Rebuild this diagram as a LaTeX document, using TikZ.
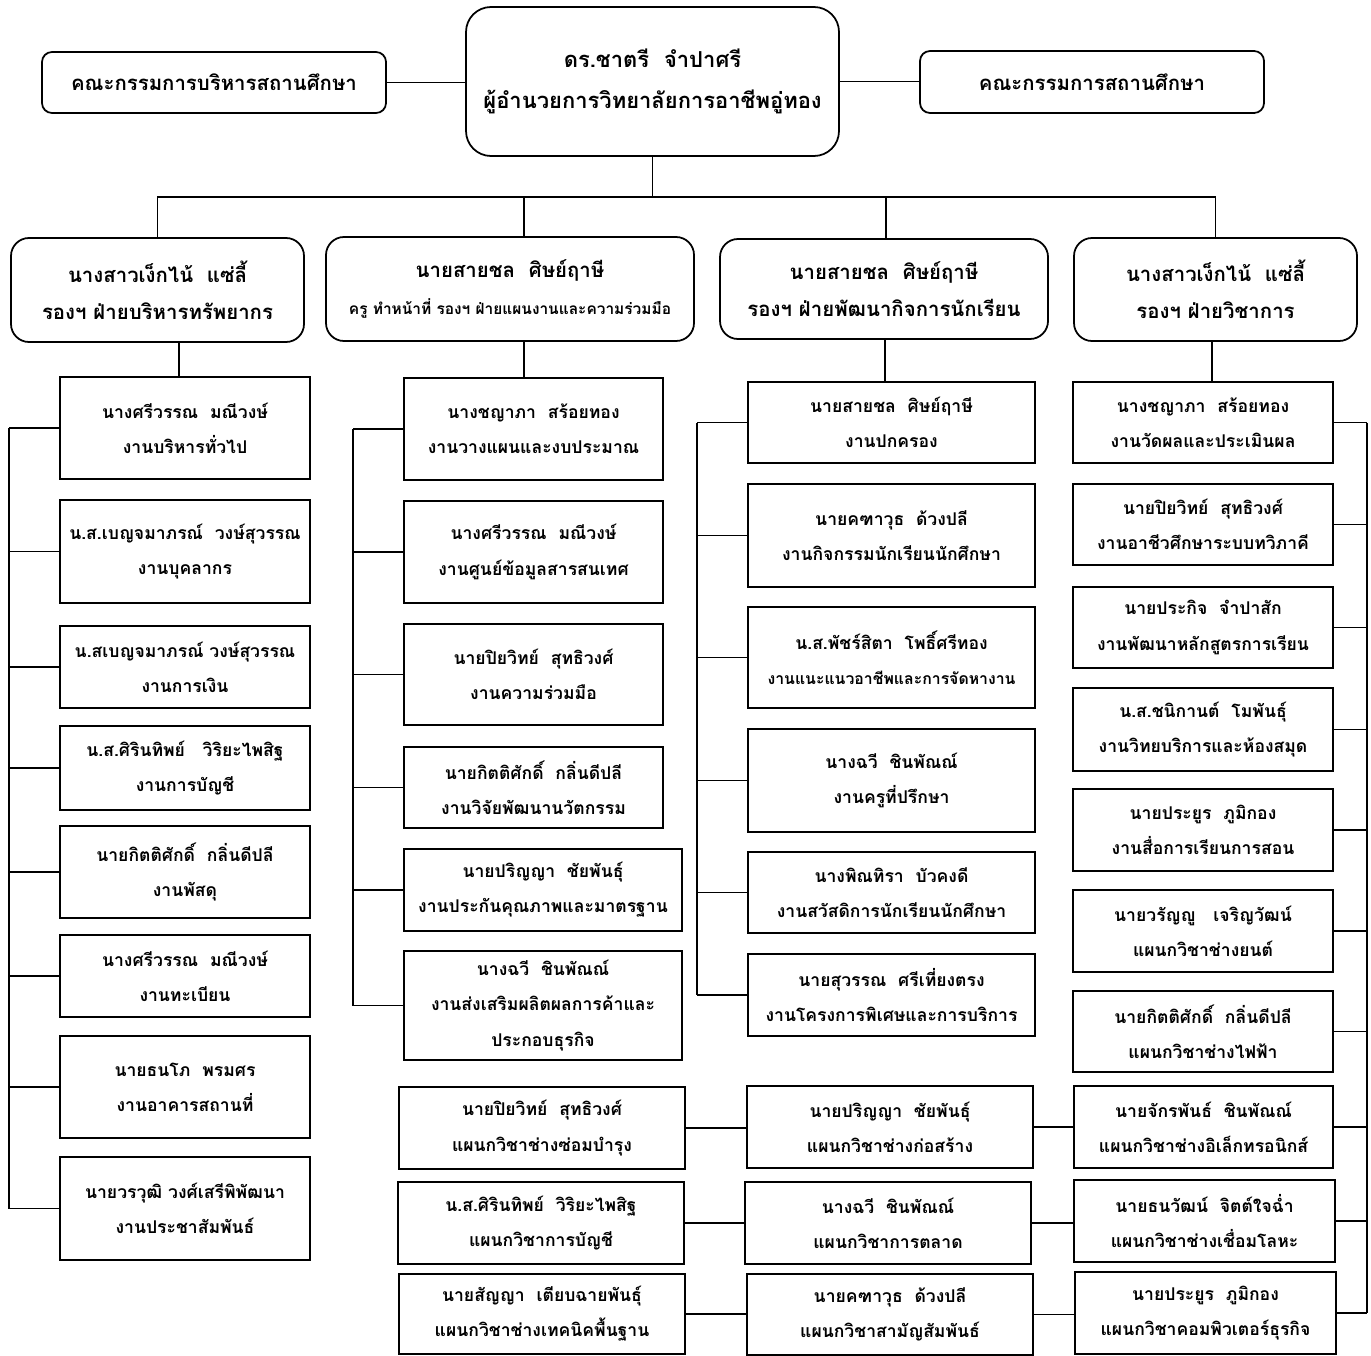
\documentclass[tikz,border=0pt]{standalone}
\usepackage{fontspec}
\newfontfamily\thaifont[Script=Thai]{Loma}
\usetikzlibrary{positioning}
\tikzset{
  box/.style={draw, line width=1pt, align=center, inner sep=0pt,
    font=\thaifont\bfseries\fontsize{10}{20}\selectfont},
  boxsize/.style 2 args={minimum width=#1*0.02cm, minimum height=#2*0.02cm},
  rbox/.style={box, rounded corners=0.36cm, font=\thaifont\bfseries\fontsize{11.6}{21}\selectfont},
  link/.style={line width=0.8pt},
}
\begin{document}
\begin{tikzpicture}[x=0.02cm, y=-0.02cm]
        \useasboundingbox (0,0) rectangle (1371,1355);

        % Director and the two boards
        \node[rbox, rounded corners=0.5cm, boxsize={373}{149},
          font=\thaifont\bfseries\fontsize{12.5}{23}\selectfont] (dir) at (652.5,81.5)
          {ดร.ชาตรี~~จำปาศรี\\ผู้อำนวยการวิทยาลัยการอาชีพอู่ทอง};
        \node[rbox, rounded corners=0.2cm, boxsize={344}{61}] (bl) at (214,82.5) {คณะกรรมการบริหารสถานศึกษา};
        \node[rbox, rounded corners=0.2cm, boxsize={344}{62}] (br) at (1092,82) {คณะกรรมการสถานศึกษา};
        \draw[link] (bl.east) -- (bl.east -| dir.west);
        \draw[link] (dir.east) -- (dir.east -| br.west);

        % Deputy directors
        \node[rbox, boxsize={293}{104}] (vp1) at (157.5,290) {นางสาวเง็กไน้~~แซ่ลี้\\รองฯ ฝ่ายบริหารทรัพยากร};
        \node[rbox, boxsize={368}{104}] (vp2) at (510,289) {นายสายชล~~ศิษย์ฤาษี\\{\fontsize{8.8}{21}\selectfont ครู ทำหน้าที่ รองฯ ฝ่ายแผนงานและความร่วมมือ}};
        \node[rbox, boxsize={328}{100}] (vp3) at (884,289) {นายสายชล~~ศิษย์ฤาษี\\รองฯ ฝ่ายพัฒนากิจการนักเรียน};
        \node[rbox, boxsize={283}{103}] (vp4) at (1215.5,289.5) {นางสาวเง็กไน้~~แซ่ลี้\\รองฯ ฝ่ายวิชาการ};

        \coordinate (bus) at (652.5,197);
        \coordinate (j2) at (524,197);
        \coordinate (j3) at (886,197);
        \draw[link] (dir.south) -- (bus);
        \draw[link] (vp1.north) |- (bus) -| (vp4.north);
        \draw[link] (j2) -- (j2 |- vp2.north);
        \draw[link] (j3) -- (j3 |- vp3.north);

        % Column under resources
        \node[box, boxsize={250}{102}] (a1) at (185,428) {นางศรีวรรณ~~มณีวงษ์\\งานบริหารทั่วไป};
        \node[box, boxsize={250}{103}] (a2) at (185,551.5) {น.ส.เบญจมาภรณ์~~วงษ์สุวรรณ\\งานบุคลากร};
        \node[box, boxsize={250}{82}] (a3) at (185,667) {น.สเบญจมาภรณ์ วงษ์สุวรรณ\\งานการเงิน};
        \node[box, boxsize={250}{84}] (a4) at (185,768) {น.ส.ศิรินทิพย์~~~วิริยะไพสิฐ\\งานการบัญชี};
        \node[box, boxsize={250}{92}] (a5) at (185,872) {นายกิตติศักดิ์~~กลิ่นดีปลี\\งานพัสดุ};
        \node[box, boxsize={250}{82}] (a6) at (185,976) {นางศรีวรรณ~~มณีวงษ์\\งานทะเบียน};
        \node[box, boxsize={250}{102}] (a7) at (185,1087) {นายธนโภ~~พรมศร\\งานอาคารสถานที่};
        \node[box, boxsize={250}{103}] (a8) at (185,1208.5) {นายวรวุฒิ วงศ์เสรีพิพัฒนา\\งานประชาสัมพันธ์};

        % Column under planning
        \node[box, boxsize={259}{102}] (b1) at (533.5,429) {นางชญาภา~~สร้อยทอง\\งานวางแผนและงบประมาณ};
        \node[box, boxsize={259}{102}] (b2) at (533.5,552) {นางศรีวรรณ~~มณีวงษ์\\งานศูนย์ข้อมูลสารสนเทศ};
        \node[box, boxsize={259}{101}] (b3) at (533.5,674.5) {นายปิยวิทย์~~สุทธิวงศ์\\งานความร่วมมือ};
        \node[box, boxsize={259}{81}] (b4) at (533.5,787.5) {นายกิตติศักดิ์~~กลิ่นดีปลี\\งานวิจัยพัฒนานวัตกรรม};
        \node[box, boxsize={278}{82}] (b5) at (543,890) {นายปริญญา~~ชัยพันธุ์\\งานประกันคุณภาพและมาตรฐาน};
        \node[box, boxsize={278}{109}] (b6) at (543,1005.5) {นางฉวี~~ชินพัณณ์\\งานส่งเสริมผลิตผลการค้าและ\\ประกอบธุรกิจ};

        % Column under student affairs
        \node[box, boxsize={287}{81}] (c1) at (891.5,422.5) {นายสายชล~~ศิษย์ฤาษี\\งานปกครอง};
        \node[box, boxsize={287}{103}] (c2) at (891.5,535.5) {นายคฑาวุธ~~ด้วงปลี\\งานกิจกรรมนักเรียนนักศึกษา};
        \node[box, boxsize={287}{101}] (c3) at (891.5,657.5) {น.ส.พัชร์สิตา~~โพธิ์ศรีทอง\\{\fontsize{9}{20}\selectfont งานแนะแนวอาชีพและการจัดหางาน}};
        \node[box, boxsize={287}{103}] (c4) at (891.5,780.5) {นางฉวี~~ชินพัณณ์\\งานครูที่ปรึกษา};
        \node[box, boxsize={287}{81}] (c5) at (891.5,892.5) {นางพิณทิรา~~บัวคงดี\\งานสวัสดิการนักเรียนนักศึกษา};
        \node[box, boxsize={287}{82}] (c6) at (891.5,995) {นายสุวรรณ~~ศรีเที่ยงตรง\\งานโครงการพิเศษและการบริการ};

        % Column under academic affairs
        \node[box, boxsize={260}{81}] (d1) at (1203,422.5) {นางชญาภา~~สร้อยทอง\\งานวัดผลและประเมินผล};
        \node[box, boxsize={260}{81}] (d2) at (1203,524.5) {นายปิยวิทย์~~สุทธิวงศ์\\งานอาชีวศึกษาระบบทวิภาคี};
        \node[box, boxsize={260}{81}] (d3) at (1203,627.5) {นายประกิจ~~จำปาสัก\\งานพัฒนาหลักสูตรการเรียน};
        \node[box, boxsize={260}{83}] (d4) at (1203,729.5) {น.ส.ชนิกานต์~~โมพันธุ์\\งานวิทยบริการและห้องสมุด};
        \node[box, boxsize={260}{82}] (d5) at (1203,830) {นายประยูร~~ภูมิกอง\\งานสื่อการเรียนการสอน};
        \node[box, boxsize={260}{82}] (d6) at (1203,931) {นายวรัญญู~~~เจริญวัฒน์\\แผนกวิชาช่างยนต์};
        \node[box, boxsize={260}{81}] (d7) at (1203,1031.5) {นายกิตติศักดิ์~~กลิ่นดีปลี\\แผนกวิชาช่างไฟฟ้า};

        % Departments at the bottom
        \node[box, boxsize={286}{82}] (e1) at (542,1128) {นายปิยวิทย์~~สุทธิวงศ์\\แผนกวิชาช่างซ่อมบำรุง};
        \node[box, boxsize={286}{82}] (e2) at (541,1223) {น.ส.ศิรินทิพย์~~วิริยะไพสิฐ\\แผนกวิชาการบัญชี};
        \node[box, boxsize={286}{80}] (e3) at (542,1314) {นายสัญญา~~เตียบฉายพันธุ์\\แผนกวิชาช่างเทคนิคพื้นฐาน};
        \node[box, boxsize={286}{82}] (f1) at (890,1127) {นายปริญญา~~ชัยพันธุ์\\แผนกวิชาช่างก่อสร้าง};
        \node[box, boxsize={286}{82}] (f2) at (888,1223) {นางฉวี~~ชินพัณณ์\\แผนกวิชาการตลาด};
        \node[box, boxsize={286}{81}] (f3) at (890,1314.5) {นายคฑาวุธ~~ด้วงปลี\\แผนกวิชาสามัญสัมพันธ์};
        \node[box, boxsize={259}{82}] (g1) at (1203.5,1127) {นายจักรพันธ์~~ชินพัณณ์\\แผนกวิชาช่างอิเล็กทรอนิกส์};
        \node[box, boxsize={261}{82}] (g2) at (1204.5,1221) {นายธนวัฒน์~~จิตต์ใจฉ่ำ\\แผนกวิชาช่างเชื่อมโลหะ};
        \node[box, boxsize={261}{82}] (g3) at (1205.5,1313) {นายประยูร~~ภูมิกอง\\แผนกวิชาคอมพิวเตอร์ธุรกิจ};

        % Drops from the deputies
        \draw[link] (vp1.south -| 179,0) -- (a1.north -| 179,0);
        \draw[link] (vp2.south -| 524,0) -- (b1.north -| 524,0);
        \draw[link] (vp3.south -| 885,0) -- (c1.north -| 885,0);
        \draw[link] (vp4.south -| 1212,0) -- (d1.north -| 1212,0);

        % Side buses
        \coordinate (busa) at (9,0);
        \coordinate (busb) at (353,0);
        \coordinate (busc) at (697,0);
        \coordinate (busd) at (1367,0);
        \draw[link] (a1.west -| busa) -- (a8.west -| busa);
        \foreach \n in {a1,a2,a3,a4,a5,a6,a7,a8}
            \draw[link] (\n.west) -- (\n.west -| busa);
        \draw[link] (b1.west -| busb) -- (b6.west -| busb);
        \foreach \n in {b1,b2,b3,b4,b5,b6}
            \draw[link] (\n.west) -- (\n.west -| busb);
        \draw[link] (c1.west -| busc) -- (c6.west -| busc);
        \foreach \n in {c1,c2,c3,c4,c5,c6}
            \draw[link] (\n.west) -- (\n.west -| busc);
        \draw[link] (d1.east -| busd) -- (g3.east -| busd);
        \foreach \n in {d1,d2,d3,d4,d5,d6,d7,g1,g2,g3}
            \draw[link] (\n.east) -- (\n.east -| busd);

        % Rows at the bottom
        \foreach \r in {1,2,3} {
            \draw[link] (e\r.east) -- (e\r.east -| f\r.west);
            \draw[link] (f\r.east) -- (f\r.east -| g\r.west);
        }
\end{tikzpicture}
\end{document}
